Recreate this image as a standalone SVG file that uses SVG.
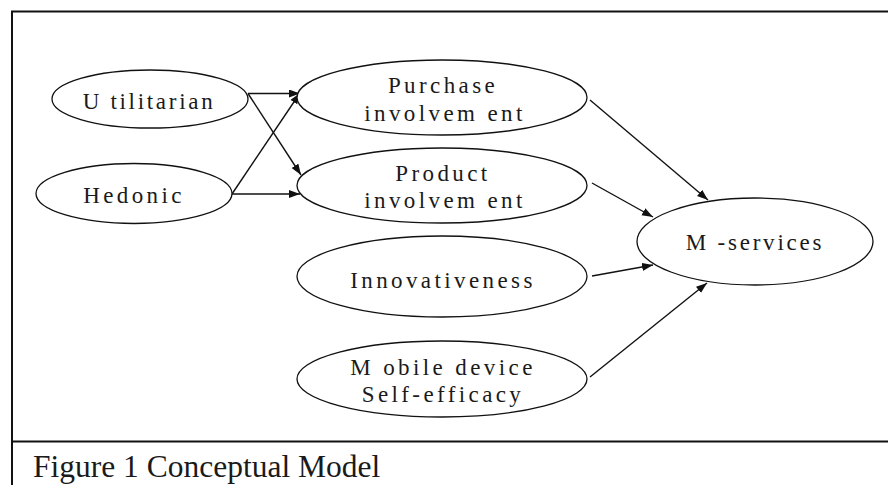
<svg xmlns="http://www.w3.org/2000/svg" width="888" height="485" viewBox="0 0 888 485">
  <style>
    .node ellipse { fill: #fff; stroke: #111; stroke-width: 1.3; }
    .label { font-family: "Liberation Serif", "Times New Roman", serif; font-size: 23px; fill: #1a1a1a; text-anchor: middle; letter-spacing: 3.4px; }
    .edges line { stroke: #111; stroke-width: 1.4; marker-end: url(#arrow); }
    .frame { stroke: #111; stroke-width: 2; fill: none; }
    .caption { font-family: "Liberation Serif", "Times New Roman", serif; font-size: 31.5px; fill: #1a1a1a; }
  </style>
  <defs>
    <marker id="arrow" markerUnits="userSpaceOnUse" markerWidth="12" markerHeight="10" refX="11" refY="4" orient="auto">
      <path d="M0,0 L11,4 L0,8 Z" fill="#111"/>
    </marker>
  </defs>
  <rect width="888" height="485" fill="#fff"/>

  <!-- frame: top and left rules, plus the caption separator -->
  <path class="frame" d="M888,11.5 H12 V485"/>
  <path class="frame" d="M12,441.5 H888"/>

  <!-- connectors -->
  <g class="edges">
    <line x1="248" y1="93.5" x2="300" y2="93.5"/>
    <line x1="248" y1="93.5" x2="301" y2="175"/>
    <line x1="232" y1="194" x2="300" y2="93"/>
    <line x1="232" y1="194" x2="300" y2="194"/>
    <line x1="590" y1="100" x2="708" y2="200"/>
    <line x1="592" y1="183" x2="653" y2="217"/>
    <line x1="592" y1="276" x2="653" y2="265"/>
    <line x1="590" y1="377" x2="707" y2="283"/>
  </g>

  <!-- nodes -->
  <g id="utilitarian" class="node">
    <ellipse cx="150" cy="99" rx="98" ry="29"/>
    <text class="label" x="149" y="109" style="letter-spacing:2.7px">U tilitarian</text>
  </g>
  <g id="hedonic" class="node">
    <ellipse cx="134" cy="193.5" rx="98" ry="30"/>
    <text class="label" x="134" y="203">Hedonic</text>
  </g>
  <g id="purchase" class="node">
    <ellipse cx="442" cy="97.5" rx="145" ry="37.5"/>
    <text class="label" x="443" y="92.5">Purchase</text>
    <text class="label" x="445" y="121">involvem ent</text>
  </g>
  <g id="product" class="node">
    <ellipse cx="442" cy="185.5" rx="145" ry="37.5"/>
    <text class="label" x="443" y="181">Product</text>
    <text class="label" x="445" y="208">involvem ent</text>
  </g>
  <g id="innovativeness" class="node">
    <ellipse cx="442" cy="276.5" rx="145" ry="40.5"/>
    <text class="label" x="443" y="288">Innovativeness</text>
  </g>
  <g id="self-efficacy" class="node">
    <ellipse cx="442" cy="379" rx="145" ry="38"/>
    <text class="label" x="443" y="375">M obile device</text>
    <text class="label" x="443" y="402">Self-efficacy</text>
  </g>
  <g id="m-services" class="node">
    <ellipse cx="755" cy="241.5" rx="118" ry="43.5"/>
    <text class="label" x="755" y="250" style="letter-spacing:2.8px">M -services</text>
  </g>

  <text class="caption" x="33" y="477">Figure 1 Conceptual Model</text>
</svg>
